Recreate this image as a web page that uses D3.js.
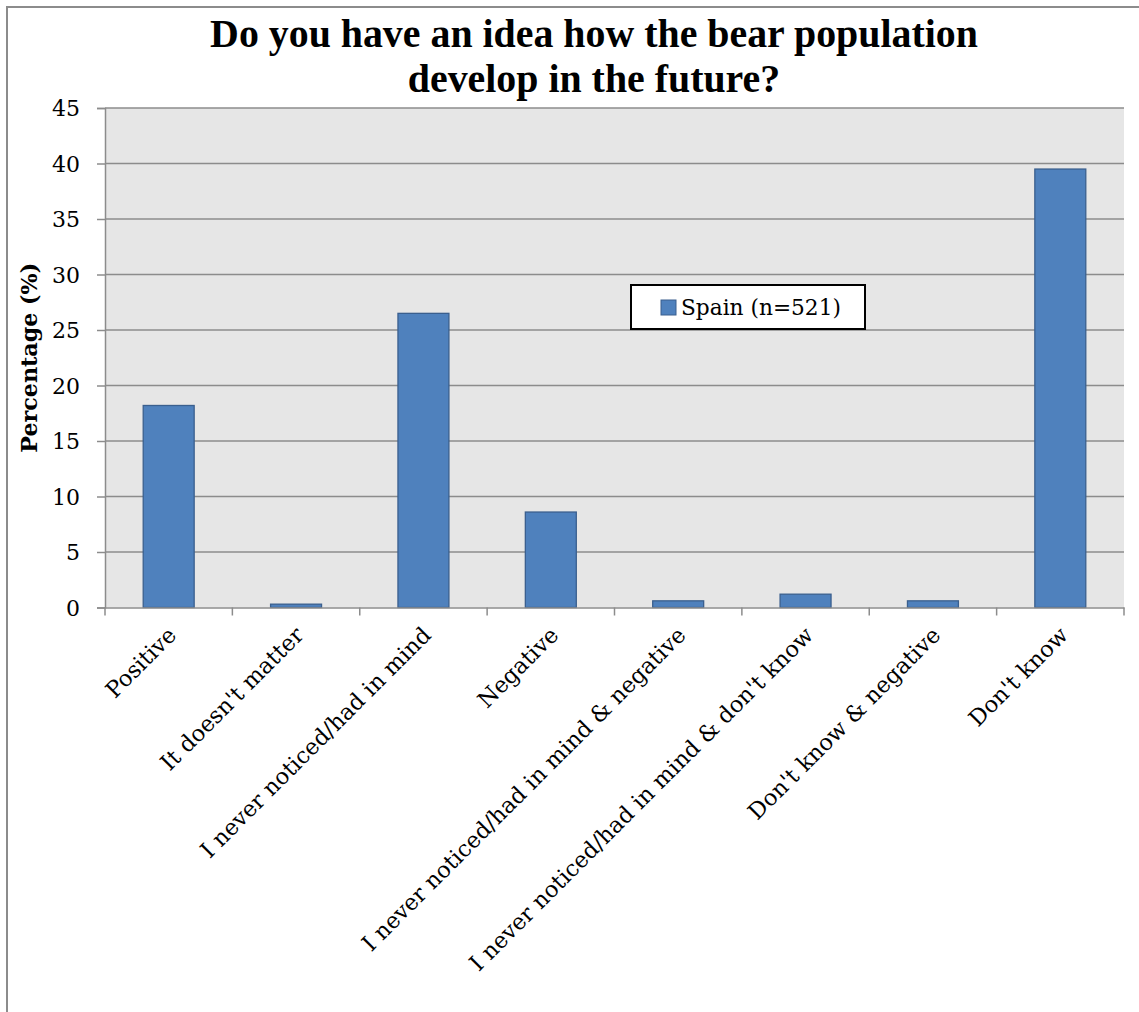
<!DOCTYPE html>
<html>
<head>
<meta charset="utf-8">
<script src="https://cdn.jsdelivr.net/npm/d3@7"></script>
<style>
  html, body { margin: 0; padding: 0; background: #fff; }
  svg { display: block; }
  text { font-family: "DejaVu Serif", "Liberation Serif", serif; }
  text.title { font-family: "Liberation Serif", serif; }
</style>
</head>
<body>
<script>
const categories = [
  "Positive",
  "It doesn't matter",
  "I never noticed/had in mind",
  "Negative",
  "I never noticed/had in mind & negative",
  "I never noticed/had in mind & don't know",
  "Don't know & negative",
  "Don't know"
];
const values = [18.2, 0.3, 26.5, 8.6, 0.6, 1.2, 0.6, 39.5];
const yTicks = [0, 5, 10, 15, 20, 25, 30, 35, 40, 45];
const seriesName = "Spain (n=521)";
const titleLines = ["Do you have an idea how the bear population", "develop in the future?"];
const yTitle = "Percentage (%)";

const W = 1139, H = 1012;
const plot = { left: 105, right: 1124, top: 108, bottom: 607.5 };

const svg = d3.select("body").append("svg").attr("width", W).attr("height", H);

// fit a text selection's font size so its rendered length equals target
function fitSize(sel, target) {
  const n = sel.node();
  const fs = parseFloat(sel.attr("font-size"));
  const len = n.getComputedTextLength();
  const nf = fs * target / len;
  sel.attr("font-size", nf);
  return nf;
}

// outer chart border
svg.append("rect")
  .attr("x", 7).attr("y", 7).attr("width", W + 20).attr("height", H + 20)
  .attr("fill", "#fff").attr("stroke", "#8c8c8c").attr("stroke-width", 2);

const x = d3.scaleBand().domain(categories).range([plot.left, plot.right]).paddingInner(0.6).paddingOuter(0.3);
const xBand = d3.scaleBand().domain(categories).range([plot.left, plot.right]).padding(0);
const y = d3.scaleLinear().domain([0, 45]).range([plot.bottom, plot.top]);

// plot area background
svg.append("rect")
  .attr("x", plot.left).attr("y", plot.top)
  .attr("width", plot.right - plot.left).attr("height", plot.bottom - plot.top)
  .attr("fill", "#e6e6e6");

// gridlines
svg.append("g").selectAll("line").data(yTicks.filter(d => d > 0)).join("line")
  .attr("x1", plot.left).attr("x2", plot.right)
  .attr("y1", d => y(d)).attr("y2", d => y(d))
  .attr("stroke", "#8c8c8c").attr("stroke-width", 1.5);

// bars
svg.append("g").selectAll("rect").data(values).join("rect")
  .attr("x", (d, i) => x(categories[i]))
  .attr("width", x.bandwidth())
  .attr("y", d => y(d))
  .attr("height", d => y(0) - y(d))
  .attr("fill", "#4f81bd")
  .attr("stroke", "#3a5f8e").attr("stroke-width", 1.3);

// y axis
const yAxis = svg.append("g").attr("transform", `translate(${plot.left},0)`)
  .call(d3.axisLeft(y).tickValues(yTicks).tickSize(8).tickPadding(17).tickFormat(d3.format("d")));
yAxis.attr("font-family", null);
yAxis.select(".domain").attr("stroke", "#8c8c8c").attr("stroke-width", 1.5);
yAxis.selectAll(".tick line").attr("stroke", "#8c8c8c").attr("stroke-width", 1.5);
yAxis.selectAll(".tick text").attr("font-size", 22).attr("fill", "#000").attr("dy", "0.36em");
{
  const t = yAxis.selectAll(".tick text").filter(d => d === 45);
  const fs = fitSize(t, 28);
  yAxis.selectAll(".tick text").attr("font-size", fs);
}

// x axis
const xAxis = svg.append("g").attr("transform", `translate(0,${plot.bottom})`)
  .call(d3.axisBottom(xBand).tickSize(0).tickFormat(""));
xAxis.select(".domain").attr("stroke", "#8c8c8c").attr("stroke-width", 1.5);
xAxis.selectAll(".tick").remove();
const bounds = categories.map(c => xBand(c)).concat([plot.right]);
svg.append("g").selectAll("line").data(bounds).join("line")
  .attr("x1", d => d).attr("x2", d => d)
  .attr("y1", plot.bottom).attr("y2", plot.bottom + 8)
  .attr("stroke", "#8c8c8c").attr("stroke-width", 1.5);

// x labels rotated
const xl = svg.append("g").selectAll("text").data(categories).join("text")
  .attr("transform", d => `translate(${xBand(d) + xBand.bandwidth() / 2 + 9},${plot.bottom + 29}) rotate(-45)`)
  .attr("text-anchor", "end")
  .attr("font-size", 22)
  .attr("fill", "#000")
  .text(d => d);
{
  const t = xl.filter(d => d === "I never noticed/had in mind & don't know");
  const fs = fitSize(t, 475);
  xl.attr("font-size", fs);
}

// y title
const yt = svg.append("text")
  .attr("transform", `translate(37,${(plot.top + plot.bottom) / 2}) rotate(-90)`)
  .attr("text-anchor", "middle")
  .attr("font-size", 20).attr("font-weight", "bold")
  .text(yTitle);
fitSize(yt, 190);

// title
const tt = svg.append("g").selectAll("text").data(titleLines).join("text")
  .attr("class", "title")
  .attr("x", 594).attr("y", (d, i) => 47 + i * 45)
  .attr("text-anchor", "middle")
  .attr("font-size", 36).attr("font-weight", "bold")
  .text(d => d);
{
  const fs = fitSize(tt.filter((d, i) => i === 0), 768);
  tt.attr("font-size", fs);
}

// legend
const lg = svg.append("g");
lg.append("rect").attr("x", 631).attr("y", 285).attr("width", 234).attr("height", 44)
  .attr("fill", "#fff").attr("stroke", "#000").attr("stroke-width", 2);
lg.append("rect").attr("x", 661).attr("y", 300).attr("width", 15).attr("height", 15)
  .attr("fill", "#4f81bd").attr("stroke", "#3a5f8e").attr("stroke-width", 1);
const lt = lg.append("text").attr("x", 681).attr("y", 315).attr("font-size", 20).text(seriesName);
fitSize(lt, 160);
</script>
</body>
</html>
